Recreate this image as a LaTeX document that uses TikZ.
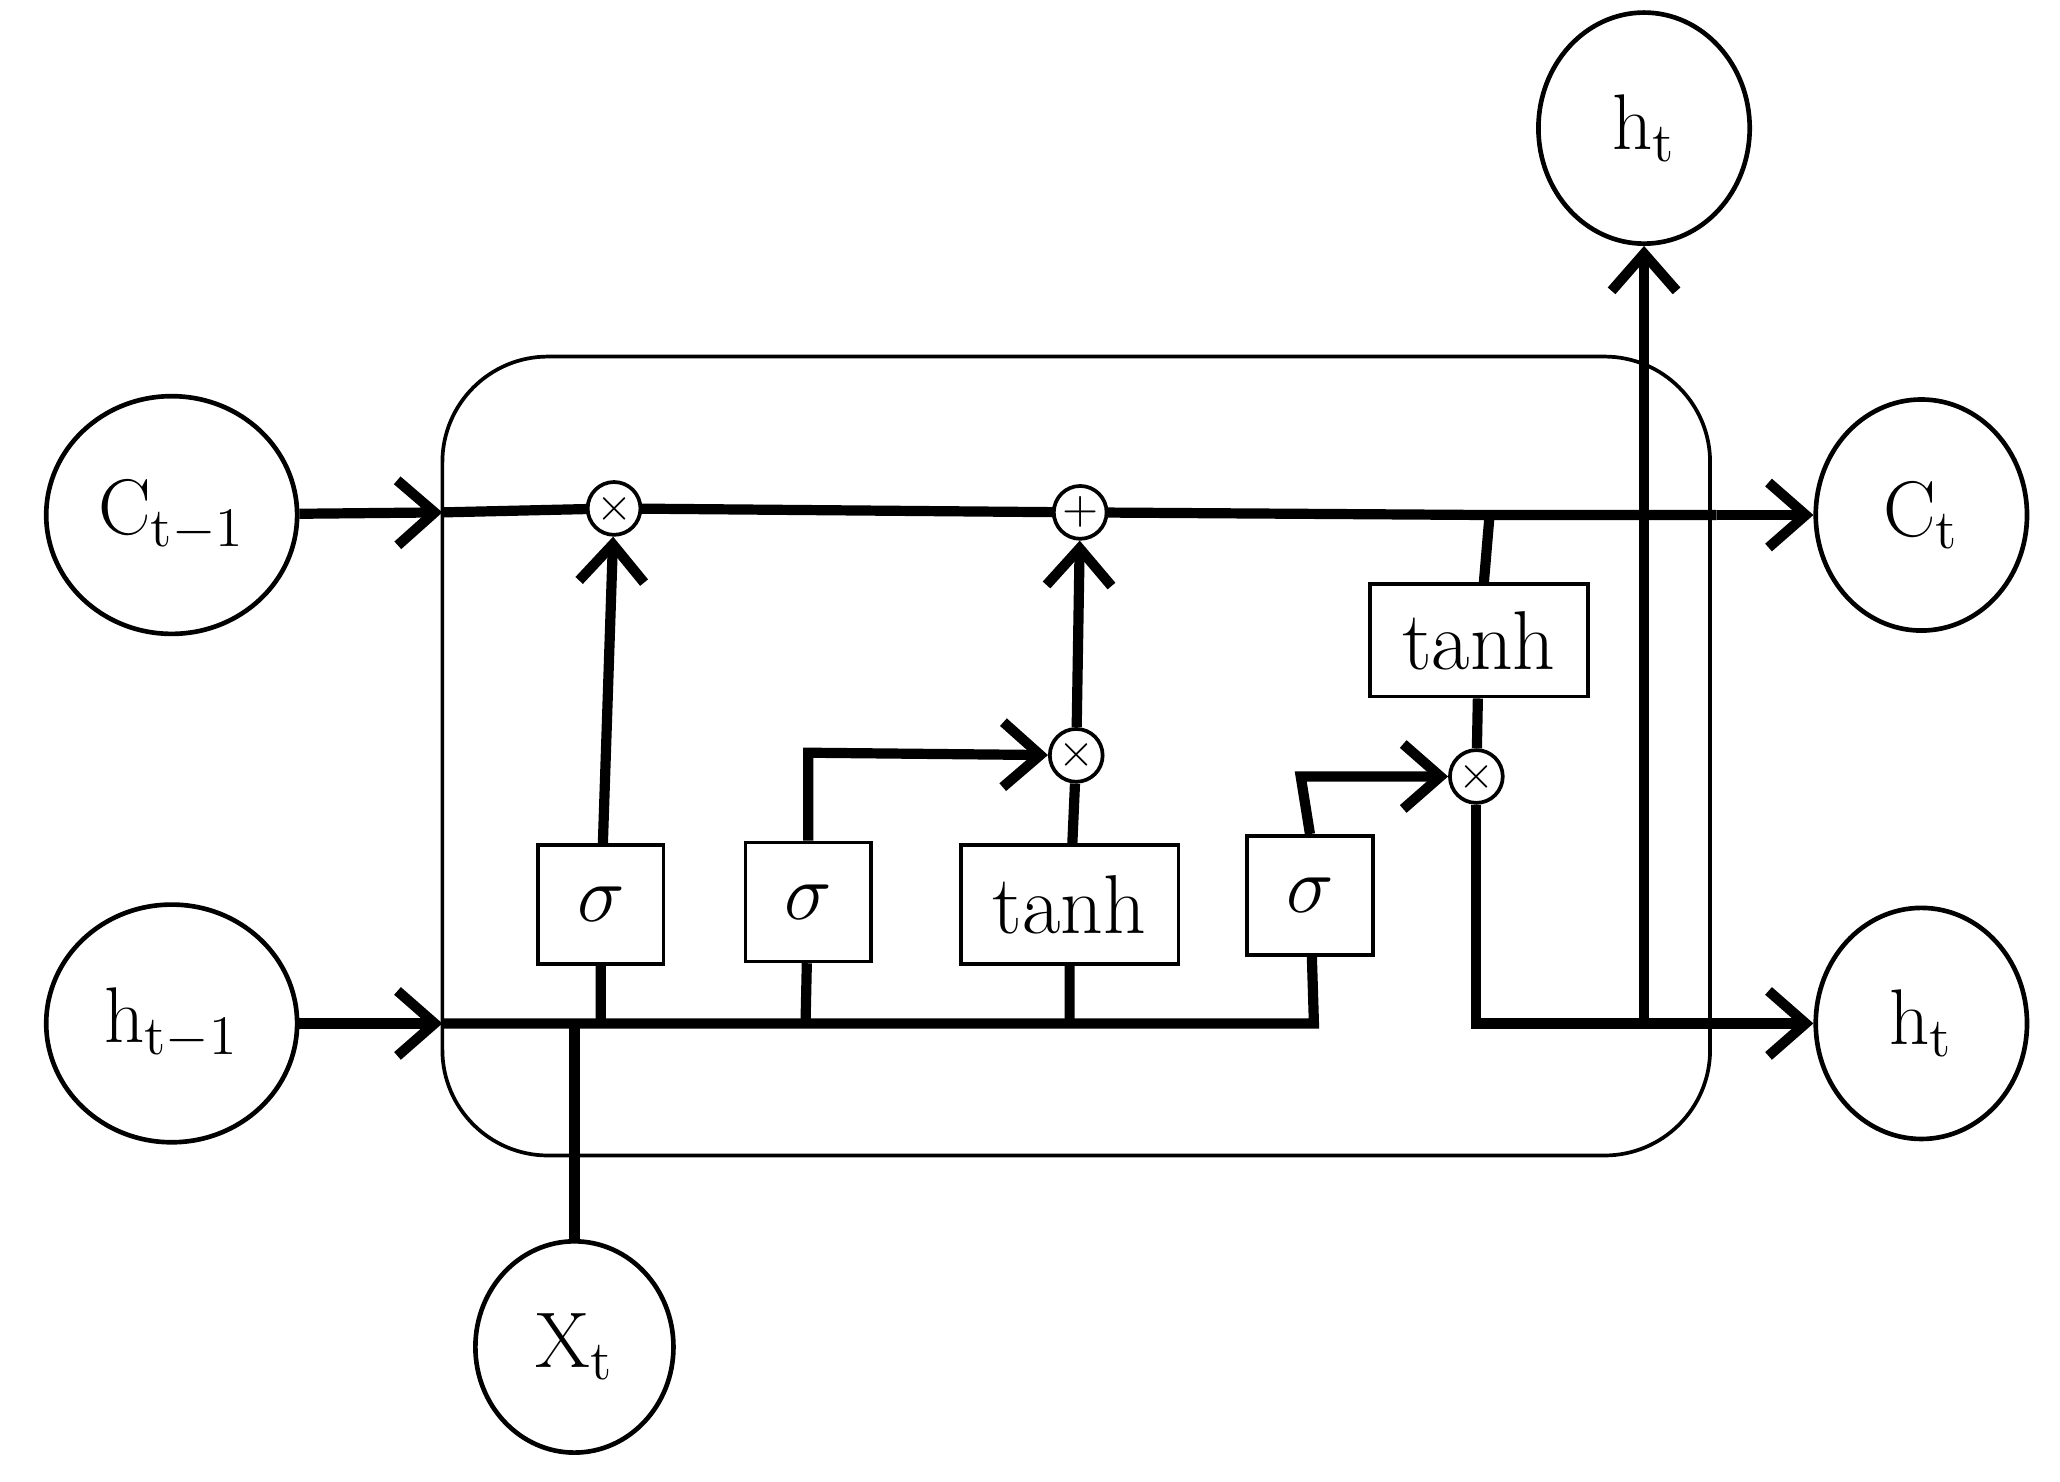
\documentclass[tikz,border=0pt]{standalone}
\usetikzlibrary{arrows.meta,shapes.geometric}
\tikzset{%
    io/.style={ellipse,draw,line width=1pt,minimum width=1.8cm,minimum height=1.75cm,inner sep=0pt,font=\fontsize{17}{20}\selectfont},
    gat/.style={rectangle,draw,fill=white,line width=0.8pt,minimum height=0.9cm,minimum width=0.95cm,font=\fontsize{18}{20}\selectfont},
    op/.style={circle,draw,fill=white,line width=0.8pt,minimum size=0.4cm,inner sep=0pt},
    pri/.style={line width=2.2pt},
    pra/.style={line width=2.2pt, -{Straight Barb[length=8pt,width=14pt,line width=2.2pt]}}
}
\begin{document}
\begin{tikzpicture}
    \useasboundingbox (0,0) rectangle (15.6,-11.22);
    \draw [line width=0.8pt,rounded corners=0.8cm](3.35,-2.7) rectangle (12.95,-8.75);
    % inputs and outputs
    \node[io,minimum width=1.9cm,minimum height=1.8cm] (cin) at (1.3,-3.9) {C$_{\mathrm{t-1}}$};
    \node[io,minimum width=1.9cm,minimum height=1.8cm] (hin) at (1.3,-7.75) {h$_{\mathrm{t-1}}$};
    \node[io,minimum width=1.5cm,minimum height=1.6cm] (xt) at (4.35,-10.2) {X$_{\mathrm{t}}$};
    \node[io,minimum width=1.6cm,minimum height=1.75cm] (cout) at (14.55,-3.9) {C$_{\mathrm{t}}$};
    \node[io,minimum width=1.6cm,minimum height=1.75cm] (hout) at (14.55,-7.75) {h$_{\mathrm{t}}$};
    \node[io,minimum width=1.6cm,minimum height=1.75cm] (htop) at (12.45,-0.97) {h$_{\mathrm{t}}$};
    % gates
    \node[gat] (sf) at (4.55,-6.85) {$\sigma$};
    \node[gat] (si) at (6.12,-6.83) {$\sigma$};
    \node[gat,minimum width=1.65cm] (tc) at (8.1,-6.85) {tanh};
    \node[gat] (so) at (9.92,-6.78) {$\sigma$};
    \node[gat,minimum width=1.65cm,minimum height=0.85cm] (th) at (11.2,-4.85) {tanh};
    % pointwise ops
    \coordinate (j1) at (3.35,-3.88);
    \coordinate (j2) at (3.35,-7.75);
    \coordinate (sp) at (11.28,-3.9);
    \coordinate (bo) at (11.18,-7.75);
    \coordinate (bh) at (12.45,-7.75);
    \coordinate (bx) at (4.35,-7.75);
    \draw [pra](cin)--(j1);
    \draw [pra](hin)--(j2);
    \draw [pri](j1)--(4.65,-3.85)--(8.18,-3.88)--(sp)--(13.0,-3.9);
    \draw [pra](13.0,-3.9)--(cout);
    \draw [pri](j2)--(9.95,-7.75)--(so);
    \draw [pri](bx)--(xt);
    \draw [pri](4.55,-7.75)--(sf) (6.1,-7.75)--(si) (8.1,-7.75)--(tc);
    \node[op] (m1) at (4.65,-3.85) {$\times$};
    \node[op] (ad) at (8.18,-3.88) {$+$};
    \node[op] (m2) at (8.15,-5.72) {$\times$};
    \node[op] (m3) at (11.18,-5.88) {$\times$};
    \draw [pra](sf)--(m1);
    \draw [pra](m2)--(ad);
    \draw [pri](tc)--(m2);
    \draw [pra](si.north)--(6.12,-5.7)--(m2);
    \draw [pra](so.north)--(9.85,-5.88)--(m3);
    \draw [pri](sp)--(th) (th)--(m3);
    \draw [pri](m3)--(bo)--(13.0,-7.75);
    \draw [pra](13.0,-7.75)--(hout);
    \draw [pra](bh)--(htop);
\end{tikzpicture}
\end{document}
